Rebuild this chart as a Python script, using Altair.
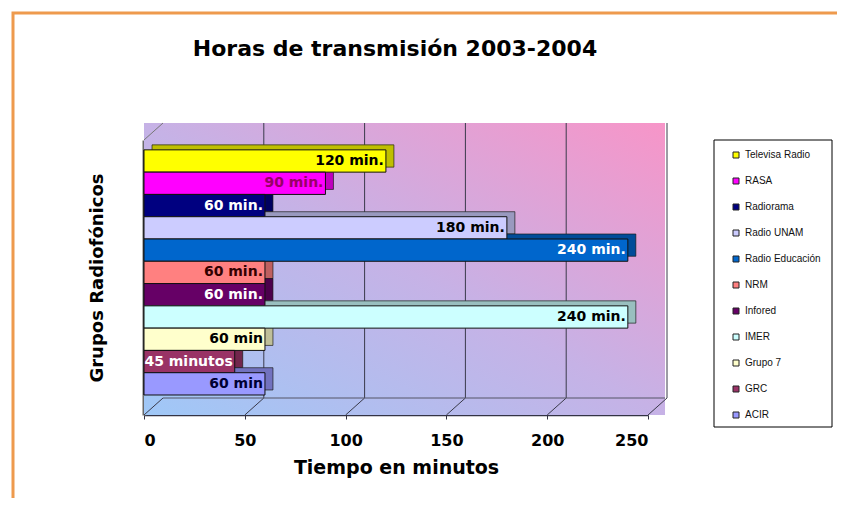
import altair as alt
import pandas as pd

grupos = ["Televisa Radio", "RASA", "Radiorama", "Radio UNAM", "Radio Educación",
          "NRM", "Infored", "IMER", "Grupo 7", "GRC", "ACIR"]
minutos = [120, 90, 60, 180, 240, 60, 60, 240, 60, 45, 60]
etiquetas = ["120 min.", "90 min.", "60 min.", "180 min.", "240 min.", "60 min.",
             "60 min.", "240 min.", "60 min", "45 minutos", "60 min"]
colores = ["#FFFF00", "#FF00FF", "#000080", "#CCCCFF", "#0066CC", "#FF8080",
           "#660066", "#CCFFFF", "#FFFFCC", "#993366", "#9999FF"]
color_texto = ["#000000", "#990066", "#FFFFFF", "#000000", "#FFFFFF", "#330000",
               "#FFFFFF", "#000000", "#000000", "#FFFFFF", "#000033"]
marcas_x = [0, 50, 100, 150, 200, 250]
titulo = "Horas de transmisión 2003-2004"

df = pd.DataFrame({"grupo": grupos, "minutos": minutos, "etiqueta": etiquetas,
                   "ctexto": color_texto})
df_ticks = pd.DataFrame({"minutos": marcas_x})
uno = pd.DataFrame({"t": [titulo]})

W, H = 504, 275

yscale = alt.Scale(domain=grupos, paddingInner=0, paddingOuter=0.67, align=0.33)
xscale = alt.Scale(domain=[0, 250], nice=False)
cscale = alt.Scale(domain=grupos, range=colores)

fondo = alt.Chart(uno).mark_rect(
    fill=alt.Gradient(
        gradient="linear", x1=0, y1=1, x2=1, y2=0,
        stops=[alt.GradientStop(color="#9fc8f7", offset=0),
               alt.GradientStop(color="#c6b2e6", offset=0.5),
               alt.GradientStop(color="#f795c8", offset=1)]),
).encode(x=alt.value(0), x2=alt.value(521), y=alt.value(-17), y2=alt.value(H))

rejilla = alt.Chart(df_ticks).transform_filter("datum.minutos > 0").mark_rule(
    color="#3a3a4a", strokeWidth=1, xOffset=19
).encode(x=alt.X("minutos:Q", scale=xscale), y=alt.value(-17), y2=alt.value(258))

piso = alt.Chart(df_ticks).mark_rule(color="#3a3a4a", strokeWidth=1, x2Offset=19).encode(
    x=alt.X("minutos:Q", scale=xscale), x2="minutos:Q",
    y=alt.value(H), y2=alt.value(258))
borde_piso = alt.Chart(uno).mark_rule(color="#555566", strokeWidth=1).encode(
    x=alt.value(19), x2=alt.value(521), y=alt.value(258))
muro_sup = alt.Chart(uno).mark_rule(color="#777777", strokeWidth=1).encode(
    x=alt.value(0), x2=alt.value(19), y=alt.value(0), y2=alt.value(-17))

prof = alt.Chart(df).mark_bar(xOffset=8, yOffset=-5, stroke="#222222", strokeWidth=0.7).encode(
    y=alt.Y("grupo:N", scale=yscale, sort=grupos),
    x=alt.X("minutos:Q", scale=xscale),
    color=alt.Color("grupo:N", scale=cscale),
)
sombra = alt.Chart(df).mark_bar(xOffset=8, yOffset=-5, color="#000000", opacity=0.25).encode(
    y=alt.Y("grupo:N", scale=yscale, sort=grupos),
    x=alt.X("minutos:Q", scale=xscale),
)

barras = alt.Chart(df).mark_bar(stroke="#111111", strokeWidth=1).encode(
    y=alt.Y("grupo:N", scale=yscale, sort=grupos,
            axis=alt.Axis(labels=False, ticks=False, domain=True, domainColor="#6a6a6a",
                          domainWidth=4, grid=False, title="Grupos Radiofónicos",
                          titleFont="DejaVu Sans", titleFontSize=18, titleFontWeight="bold",
                          titleColor="#000000", titlePadding=38)),
    x=alt.X("minutos:Q", scale=xscale,
            axis=alt.Axis(values=marcas_x, grid=False, domainColor="#333344", domainWidth=1.5,
                          tickColor="#333344", tickSize=4, labelPadding=13,
                          labelFont="DejaVu Sans", labelFontSize=16, labelFontWeight="bold",
                          labelColor="#000000", title="Tiempo en minutos",
                          titleFont="DejaVu Sans", titleFontSize=19, titleFontWeight="bold",
                          titleColor="#000000", titlePadding=10)),
    color=alt.Color("grupo:N", scale=cscale,
                    legend=alt.Legend(title=None, orient="none", legendX=587, legendY=10,
                                      padding=0, symbolType="square", symbolSize=36,
                                      symbolStrokeColor="#222222", symbolStrokeWidth=1,
                                      labelFont="Liberation Sans", labelFontSize=10,
                                      labelColor="#111111", labelOffset=4, rowPadding=16)),
)

textos = alt.Chart(df).mark_text(align="right", baseline="middle", dx=-2,
                                 font="DejaVu Sans", fontSize=14, fontWeight="bold").encode(
    y=alt.Y("grupo:N", scale=yscale, sort=grupos),
    x=alt.X("minutos:Q", scale=xscale),
    text="etiqueta:N",
    color=alt.Color("ctexto:N", scale=None),
)

caja_leyenda = alt.Chart(uno).mark_rect(fill="white", stroke="#000000", strokeWidth=1).encode(
    x=alt.value(570), x2=alt.value(688), y=alt.value(0), y2=alt.value(287))

marco = alt.Chart(uno).mark_rect(fill=None, stroke="#ee9a4d", strokeWidth=3).encode(
    x=alt.value(-131), x2=alt.value(900), y=alt.value(-127), y2=alt.value(600))

texto_titulo = alt.Chart(uno).mark_text(font="DejaVu Sans", fontSize=22, fontWeight="bold",
                                        color="#000000", align="center",
                                        baseline="alphabetic").encode(
    x=alt.value(251), y=alt.value(-84), text="t:N")

chart = alt.layer(
    barras, marco, fondo, rejilla, piso, borde_piso, muro_sup, caja_leyenda, prof, sombra,
    barras, textos, texto_titulo
).properties(
    width=W, height=H,
    autosize=alt.AutoSizeParams(type="none"),
    padding={"left": 136, "top": 132, "right": 189, "bottom": 83},
    background="white",
).configure_view(stroke=None)

chart.save("out.html", embed_options={"renderer": "svg", "actions": False})
